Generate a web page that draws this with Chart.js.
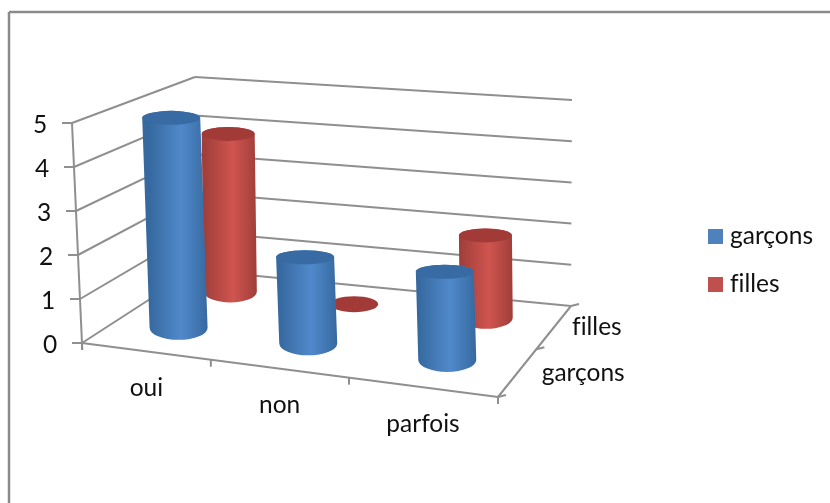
<!DOCTYPE html>
<html>
<head>
<meta charset="utf-8">
<title>garçons / filles</title>
<script src="https://cdn.jsdelivr.net/npm/chart.js@4/dist/chart.umd.min.js"></script>
<style>
    html, body { margin: 0; padding: 0; background: #fff; }
    canvas { display: block; }
</style>
</head>
<body>
<canvas id="cylindres" width="830" height="503"></canvas>
<script>
const categories = ['oui', 'non', 'parfois'];
const garcons = [5, 2, 2];
const filles = [4, 0, 2];
const yTicks = [0, 1, 2, 3, 4, 5];

const couleurs = {
    garcons: { legende: '#4f81bd', bord: '#36699f', clair: '#5089cb', dessus: '#386ba3' },
    filles: { legende: '#c0504d', bord: '#a03e3a', clair: '#d0544f', dessus: '#a23b38' }
};

const police = '24.5px Lato, "Open Sans", sans-serif';
const gris = '#8f8f8f';

// Coins de la boite 3D: sol (valeur 0) et plafond (valeur max)
const sol = { av: [82, 343], ad: [498, 397], fd: [571, 306], fg: [195, 270] };
const plafond = { av: [72, 123], ad: [491, 160], fd: [572, 100], fg: [195, 77] };

// Transformation projective du carre unite vers un quadrilatere,
// adoucie par un melange avec l'interpolation bilineaire (perspective moins forte)
function creerHomographie(q) {
    const [x0, y0] = q.av, [x1, y1] = q.ad, [x2, y2] = q.fd, [x3, y3] = q.fg;
    const dx1 = x1 - x2, dx2 = x3 - x2, sx = x0 - x1 + x2 - x3;
    const dy1 = y1 - y2, dy2 = y3 - y2, sy = y0 - y1 + y2 - y3;
    const det = dx1 * dy2 - dx2 * dy1;
    const g = (sx * dy2 - dx2 * sy) / det;
    const h = (dx1 * sy - sx * dy1) / det;
    const melange = 0.3;
    return (u, d) => {
        const w = g * u + h * d + 1;
        const px = ((x1 - x0 + g * x1) * u + (x3 - x0 + h * x3) * d + x0) / w;
        const py = ((y1 - y0 + g * y1) * u + (y3 - y0 + h * y3) * d + y0) / w;
        const bx = (1 - u) * (1 - d) * x0 + u * (1 - d) * x1 + u * d * x2 + (1 - u) * d * x3;
        const by = (1 - u) * (1 - d) * y0 + u * (1 - d) * y1 + u * d * y2 + (1 - u) * d * y3;
        return [px + (bx - px) * melange, py + (by - py) * melange];
    };
}

const surSol = creerHomographie(sol);
const surPlafond = creerHomographie(plafond);

// u: position le long des categories, d: profondeur, t: hauteur relative
function projeter(u, d, t) {
    const a = surSol(u, d), b = surPlafond(u, d);
    return [a[0] + (b[0] - a[0]) * t, a[1] + (b[1] - a[1]) * t];
}

function trait(ctx, a, b) {
    ctx.beginPath();
    ctx.moveTo(a[0], a[1]);
    ctx.lineTo(b[0], b[1]);
    ctx.stroke();
}

function dessinerCylindre(ctx, bas, haut, rx, ryBas, ryHaut, c) {
    const g = ctx.createLinearGradient(bas[0] - rx, 0, bas[0] + rx, 0);
    g.addColorStop(0, c.bord);
    g.addColorStop(0.55, c.clair);
    g.addColorStop(1, c.bord);

    if (bas[1] - haut[1] > 1) {
        ctx.fillStyle = g;
        ctx.beginPath();
        ctx.moveTo(haut[0] - rx, haut[1]);
        ctx.lineTo(bas[0] - rx, bas[1]);
        ctx.ellipse(bas[0], bas[1], rx, ryBas, 0, Math.PI, 0, true);
        ctx.lineTo(haut[0] + rx, haut[1]);
        ctx.ellipse(haut[0], haut[1], rx, ryHaut, 0, 0, Math.PI, true);
        ctx.closePath();
        ctx.fill();
    }

    ctx.fillStyle = c.dessus;
    ctx.beginPath();
    ctx.ellipse(haut[0], haut[1], rx, ryHaut, 0, 0, Math.PI * 2);
    ctx.fill();
}

const cadre3d = {
    id: 'cadre3d',
    beforeDatasetsDraw(chart) {
        const ctx = chart.ctx;
        const y = chart.scales.y, x = chart.scales.x;
        const n = x.getLabels().length;
        const profondeurs = chart.data.datasets.length;

        ctx.save();
        // cadre du graphique, ouvert a droite et en bas
        ctx.strokeStyle = '#8a8a8a';
        ctx.lineWidth = 2.5;
        trait(ctx, [9, 503], [9, 12]);
        trait(ctx, [9, 12], [830, 12]);

        ctx.strokeStyle = gris;
        ctx.lineWidth = 2;
        ctx.font = police;
        ctx.textRendering = 'optimizeSpeed'; // pas de ligature "fi"
        ctx.fillStyle = '#111';

        // lignes de grille sur les deux murs + graduations de l'axe y
        ctx.textAlign = 'center';
        ctx.textBaseline = 'middle';
        y.ticks.forEach((tick) => {
            const t = (y.bottom - y.getPixelForValue(tick.value)) / (y.bottom - y.top);
            const av = projeter(0, 0, t), fg = projeter(0, 1, t), fd = projeter(1, 1, t);
            trait(ctx, av, fg);
            trait(ctx, fg, fd);
            trait(ctx, [av[0] - 10, av[1]], av);
            ctx.fillText(tick.label, av[0] - 32, av[1] + 2);
        });

        // axe y et bords du sol
        trait(ctx, projeter(0, 0, 1), [sol.av[0] + 0.3, sol.av[1] + 7]);
        trait(ctx, sol.av, sol.ad);
        trait(ctx, sol.ad, sol.fd);

        // graduations et libelles des categories
        for (let i = 0; i <= n; i++) {
            const p = projeter(i / n, 0, 0);
            trait(ctx, p, [p[0], p[1] + 7]);
        }
        x.getLabels().forEach((label, i) => {
            const u = (x.getPixelForValue(i) - x.left) / (x.right - x.left);
            const p = projeter(u, 0, 0);
            ctx.fillText(label, p[0] + 1, p[1] + 37);
        });

        // axe de profondeur, a droite du sol
        for (let i = 0; i <= profondeurs; i++) {
            const p = projeter(1, i / profondeurs, 0);
            trait(ctx, p, [p[0] + 8, p[1] - 2]);
        }
        ctx.textAlign = 'left';
        chart.data.datasets.forEach((ds, i) => {
            const p = projeter(1, (i + 0.5) / profondeurs, 0);
            ctx.fillText(ds.label, p[0] + 24 - 6 * i, p[1] - i + 1);
        });

        // legende a droite
        ctx.textBaseline = 'alphabetic';
        chart.data.datasets.forEach((ds, i) => {
            const hautCase = 229 + i * 48;
            ctx.fillStyle = ds.backgroundColor;
            ctx.fillRect(708, hautCase, 15, 15);
            ctx.fillStyle = '#111';
            ctx.fillText(ds.label, 730, hautCase + 15);
        });
        ctx.restore();
    },
    // chaque barre du graphique devient un cylindre en perspective
    beforeDatasetDraw(chart, args) {
        const ctx = chart.ctx;
        const a = chart.chartArea;
        const ds = chart.data.datasets[args.index];

        ctx.save();
        args.meta.data.forEach((bar) => {
            const u = (bar.x - a.left) / a.width;
            const t = (bar.base - bar.y) / a.height;
            const plat = t === 0;
            dessinerCylindre(
                ctx,
                projeter(u, ds.profondeur, 0),
                projeter(u, ds.profondeur, t * 0.98),
                plat ? ds.rayon - 2.5 : ds.rayon,
                ds.aplatBas,
                plat ? 8 : 7,
                ds.teintes
            );
        });
        ctx.restore();
        return false;
    }
};

new Chart(document.getElementById('cylindres').getContext('2d'), {
    type: 'bar',
    data: {
        labels: categories,
        datasets: [
            {
                label: 'garçons',
                data: garcons,
                grouped: false,
                backgroundColor: couleurs.garcons.legende,
                teintes: couleurs.garcons,
                profondeur: 0.29,
                rayon: 29,
                aplatBas: 12
            },
            {
                label: 'filles',
                data: filles,
                grouped: false,
                backgroundColor: couleurs.filles.legende,
                teintes: couleurs.filles,
                profondeur: 0.775,
                rayon: 26.5,
                aplatBas: 11
            }
        ]
    },
    options: {
        responsive: false,
        animation: false,
        plugins: { legend: { display: false }, tooltip: { enabled: false } },
        scales: {
            x: { display: false },
            y: {
                display: false,
                min: yTicks[0],
                max: yTicks[yTicks.length - 1],
                ticks: { stepSize: 1 }
            }
        }
    },
    plugins: [cadre3d]
});
</script>
</body>
</html>
